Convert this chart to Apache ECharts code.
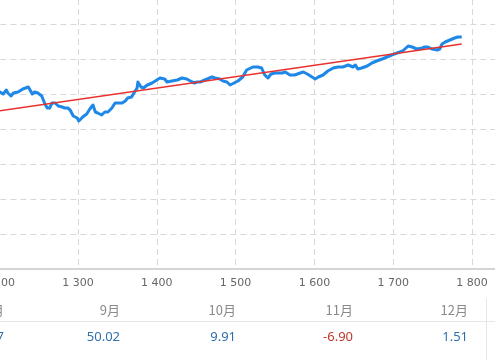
<!DOCTYPE html>
<html>
<head>
<meta charset="utf-8">
<script src="https://cdn.jsdelivr.net/npm/echarts@6/dist/echarts.min.js"></script>
<style>html,body{margin:0;padding:0;background:#fff;}#c{width:495px;height:360px;}</style>
</head>
<body>
<div id="c"></div>
<script>
// Trade number (x) and balance (y)
const trades = [1197,1201,1205,1209,1211,1215,1218,1224,1230,1237,1242,1245,1249,1254,1258,1261,1264,1267,1271,1275,1280,1283,1287,1290,1294,1299,1301,1306,1311,1315,1319,1322,1325,1330,1334,1338,1343,1347,1351,1356,1360,1363,1368,1371,1375,1376,1380,1383,1388,1394,1400,1404,1410,1413,1419,1426,1432,1438,1445,1448,1451,1455,1464,1470,1474,1480,1484,1489,1493,1495,1498,1503,1509,1514,1522,1528,1533,1537,1541,1545,1550,1554,1559,1563,1569,1575,1582,1586,1591,1597,1601,1605,1611,1617,1624,1630,1636,1643,1649,1652,1655,1660,1667,1673,1679,1686,1692,1698,1705,1712,1719,1724,1730,1737,1740,1744,1749,1756,1759,1762,1766,1772,1778,1782,1787];
const balance = [1760,1770,1750,1790,1760,1730,1760,1770,1800,1820,1750,1770,1760,1730,1650,1610,1610,1660,1660,1630,1620,1610,1610,1590,1530,1510,1480,1520,1550,1600,1640,1570,1560,1540,1570,1570,1610,1660,1660,1660,1680,1710,1720,1760,1810,1870,1820,1810,1840,1860,1890,1910,1900,1870,1880,1890,1910,1900,1870,1860,1870,1870,1900,1920,1910,1900,1880,1870,1840,1830,1860,1880,1920,1990,2020,2020,2010,1940,1910,1950,1960,1960,1960,1970,1940,1940,1960,1970,1950,1920,1900,1920,1940,1980,2010,2020,2020,2040,2020,2040,2000,2010,2030,2060,2080,2100,2120,2140,2160,2180,2230,2220,2200,2210,2220,2220,2200,2190,2200,2250,2270,2290,2310,2320,2320];
// Trend line end points
const trendTrades = [1195, 1787];
const trendValues = [1575, 2250];
// Axis ticks
const xTicks = [1100,1200,1300,1400,1500,1600,1700,1800,1900];
const xTickLabels = ['1 100','1 200','1 300','1 400','1 500','1 600','1 700','1 800','1 900'];
// Monthly table
const months = ['8月','9月','10月','11月','12月'];
const monthValues = ['12.47','50.02','9.91','-6.90','1.51'];

const chart = echarts.init(document.getElementById('c'), null, {renderer:'canvas'});

const colX = [4, 120, 236, 353, 468];
const graphics = [];
months.forEach((m,i)=>{
  graphics.push({type:'text', x: colX[i], y: 310, style:{text:m, align:'right', verticalAlign:'middle', fill:'#8a8a8a', font:'13px "Noto Sans CJK SC", sans-serif'}});
  const neg = monthValues[i].trim().startsWith('-');
  graphics.push({type:'text', x: colX[i], y: 337, style:{text:monthValues[i], align:'right', verticalAlign:'middle', fill: neg ? '#c0392b' : '#2f6fae', font:'13px "Noto Sans", "DejaVu Sans", sans-serif'}});
});
graphics.push({type:'line', shape:{x1:0,y1:321.5,x2:495,y2:321.5}, style:{stroke:'#e6e6e6', lineWidth:1}});
graphics.push({type:'line', shape:{x1:486.5,y1:298,x2:486.5,y2:360}, style:{stroke:'#e6e6e6', lineWidth:1}});

chart.setOption({
  animation:false,
  backgroundColor:'#fff',
  grid:{left:-79.6, right:-55.8, top:-11, bottom:91, containLabel:false, outerBoundsMode:'none'},
  xAxis:{
    type:'value', min:1100, max:1900, interval:100,
    axisLine:{show:true, lineStyle:{color:'#d4d4d4', width:2}},
    axisTick:{show:false},
    axisLabel:{margin:9, color:'#666', fontSize:11, fontFamily:'"DejaVu Sans", "Liberation Sans", sans-serif',
      formatter:(v)=>{const i=xTicks.indexOf(v); return i>=0?xTickLabels[i]:'';}},
    splitLine:{show:true, lineStyle:{color:'#d8d8d8', type:[6,4], width:1}}
  },
  yAxis:{
    type:'value', min:0, max:2800, interval:350,
    axisLine:{show:false}, axisTick:{show:false}, axisLabel:{show:false},
    splitLine:{show:true, lineStyle:{color:'#d8d8d8', type:[6,4], width:1}}
  },
  series:[
    {type:'line', data: trades.map((t,i)=>[t,balance[i]]), showSymbol:false, symbol:'none',
     lineStyle:{color:'#1e88e8', width:3, join:'round'}, z:2},
    {type:'line', data: trendTrades.map((t,i)=>[t,trendValues[i]]), showSymbol:false, symbol:'none',
     lineStyle:{color:'#e8312e', width:1.5}, z:3}
  ],
  graphic: graphics
});
</script>
</body>
</html>
